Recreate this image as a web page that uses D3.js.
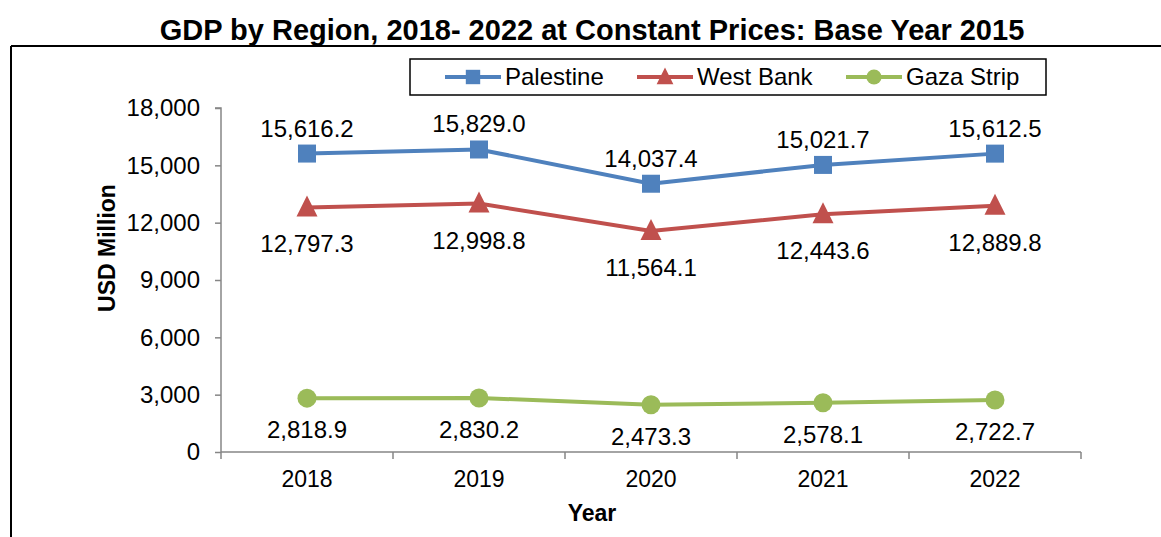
<!DOCTYPE html>
<html><head><meta charset="utf-8">
<script src="https://cdn.jsdelivr.net/npm/d3@7"></script>
<style>body{margin:0;background:#fff;}svg{display:block;font-family:Arial,"Liberation Sans",sans-serif;}</style>
</head><body>
<svg id="c" width="1161" height="537"></svg>
<script>
const years = ["2018","2019","2020","2021","2022"];
const palestine = [15616.2, 15829.0, 14037.4, 15021.7, 15612.5];
const westBank = [12797.3, 12998.8, 11564.1, 12443.6, 12889.8];
const gazaStrip = [2818.9, 2830.2, 2473.3, 2578.1, 2722.7];
const yTicks = [0, 3000, 6000, 9000, 12000, 15000, 18000];
const seriesNames = ["Palestine", "West Bank", "Gaza Strip"];

const series = [
  {name: seriesNames[0], values: palestine, color: "#4F81BD", marker: "square", labelDy: -17},
  {name: seriesNames[1], values: westBank, color: "#C0504D", marker: "triangle", labelDy: 45},
  {name: seriesNames[2], values: gazaStrip, color: "#9BBB59", marker: "circle", labelDy: 40}
];

const svg = d3.select("#c");
const W = 1161, H = 537;
const x0 = 221, x1 = 1081, yTop = 108, yBot = 452;
const FF = "Arial, 'Liberation Sans', sans-serif";

// frame
svg.append("line").attr("x1", 11).attr("x2", W).attr("y1", 46).attr("y2", 46).attr("stroke", "#000").attr("stroke-width", 2);
svg.append("line").attr("x1", 11).attr("x2", 11).attr("y1", 46).attr("y2", H).attr("stroke", "#000").attr("stroke-width", 2);

svg.append("text").attr("x", 592).attr("y", 40).attr("text-anchor", "middle")
  .attr("font-size", 29).attr("font-weight", "bold").text("GDP by Region, 2018- 2022 at Constant Prices: Base Year 2015");

const x = d3.scaleBand().domain(years).range([x0, x1]);
const y = d3.scaleLinear().domain([0, 18000]).range([yBot, yTop]);
const fmt = d3.format(",.1f");
const tfmt = d3.format(",");

// y axis
const ya = svg.append("g").attr("transform", `translate(${x0},0)`)
  .call(d3.axisLeft(y).tickValues(yTicks).tickFormat(tfmt).tickSize(6).tickPadding(15));
ya.select(".domain").attr("stroke", "#868686").attr("stroke-width", 1.5).attr("d", `M-6,${yTop}H0V${yBot}`);
ya.selectAll(".tick line").attr("stroke", "#868686").attr("stroke-width", 1.5);
ya.selectAll(".tick text").attr("font-size", 24).attr("fill", "#000").attr("font-family", FF);

// x axis
const xa = svg.append("g").attr("transform", `translate(0,${yBot})`)
  .call(d3.axisBottom(x).tickSize(0).tickPadding(19));
xa.select(".domain").attr("stroke", "#868686").attr("stroke-width", 1.5).attr("d", `M${x0},0H${x1}`);
xa.selectAll(".tick text").attr("font-size", 23).attr("fill", "#000").attr("font-family", FF);
const bounds = years.map(d => x(d)).concat([x1]);
svg.append("g").selectAll("line").data(bounds).join("line")
  .attr("x1", d => d).attr("x2", d => d).attr("y1", yBot).attr("y2", yBot + 7)
  .attr("stroke", "#868686").attr("stroke-width", 1.5);

// axis titles
svg.append("text").attr("transform", "translate(115,248) rotate(-90)").attr("text-anchor", "middle")
  .attr("font-size", 23).attr("font-weight", "bold").text("USD Million");
svg.append("text").attr("x", 592).attr("y", 521).attr("text-anchor", "middle")
  .attr("font-size", 23).attr("font-weight", "bold").text("Year");

const cx = d => x(d) + x.bandwidth() / 2;
const line = d3.line().x((d, i) => cx(years[i])).y(d => y(d));

function drawMarker(g, type, color, px, py, s) {
  if (type === "square") {
    g.append("rect").attr("x", px - 9 * s).attr("y", py - 9 * s).attr("width", 18 * s).attr("height", 18 * s).attr("fill", color);
  } else if (type === "triangle") {
    g.append("path").attr("d", `M${px},${py - 12 * s}L${px + 10.5 * s},${py + 9 * s}L${px - 10.5 * s},${py + 9 * s}Z`).attr("fill", color);
  } else {
    g.append("circle").attr("cx", px).attr("cy", py).attr("r", 9.5 * s).attr("fill", color);
  }
}

series.forEach(s => {
  const g = svg.append("g");
  g.append("path").datum(s.values).attr("d", line).attr("fill", "none")
    .attr("stroke", s.color).attr("stroke-width", 4);
  s.values.forEach((v, i) => drawMarker(g, s.marker, s.color, cx(years[i]), y(v), 1));
  g.selectAll("text").data(s.values).join("text")
    .attr("x", (d, i) => cx(years[i]))
    .attr("y", d => y(d) + s.labelDy)
    .attr("text-anchor", "middle").attr("font-size", 24).attr("fill", "#000")
    .text(d => fmt(d));
});

// legend
const lg = svg.append("g");
lg.append("rect").attr("x", 410).attr("y", 59).attr("width", 636).attr("height", 36)
  .attr("fill", "#fff").attr("stroke", "#000").attr("stroke-width", 1.5);
const legendX = [445, 637, 846];
series.forEach((s, i) => {
  const lx = legendX[i], ly = 77;
  lg.append("line").attr("x1", lx).attr("x2", lx + 56).attr("y1", ly).attr("y2", ly)
    .attr("stroke", s.color).attr("stroke-width", 4);
  drawMarker(lg, s.marker, s.color, lx + 28, ly, 0.8);
  lg.append("text").attr("x", lx + 60).attr("y", 85).attr("font-size", 24).attr("fill", "#000").text(s.name);
});
</script>
</body></html>
